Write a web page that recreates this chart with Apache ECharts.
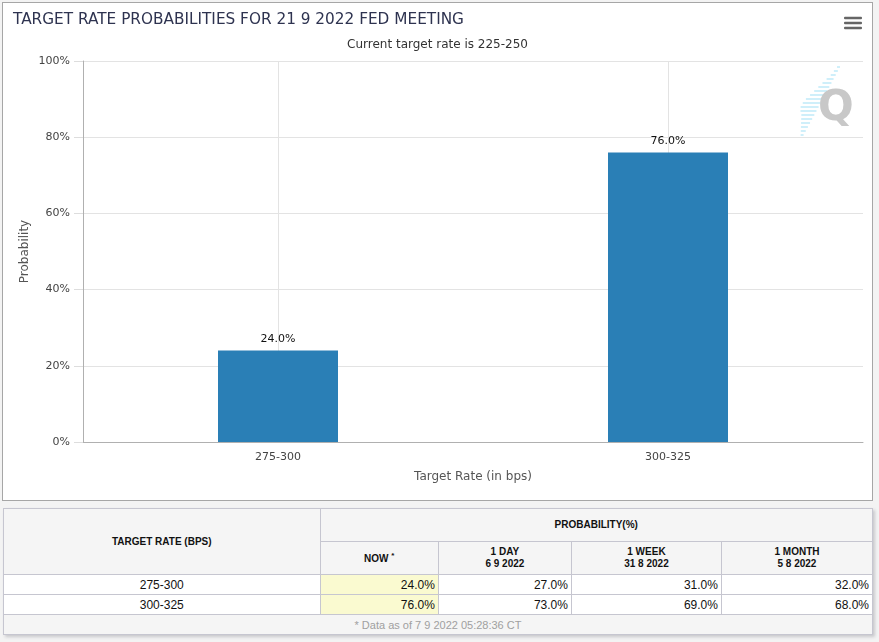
<!DOCTYPE html>
<html>
<head>
<meta charset="utf-8">
<script src="https://cdn.jsdelivr.net/npm/echarts@6/dist/echarts.min.js"></script>
<style>
  html, body { margin: 0; padding: 0; background: #f3f3f3; }
  .chart-box {
    position: absolute; left: 2px; top: 2px;
    width: 869px; height: 497px;
    border: 1px solid #a6a6a6; background: #fff;
  }
  #chart { width: 869px; height: 497px; }
  table.probs {
    position: absolute; left: 3px; top: 508px;
    width: 870px; border-collapse: collapse;
    font-family: "Liberation Sans", Arial, sans-serif;
    background: #f5f5f5;
    box-shadow: 2px 2px 3px #c8c8cc;
  }
  table.probs td, table.probs th {
    border: 1px solid #c6c6d0; padding: 0 3px;
  }
  table.probs th { font-size: 10px; font-weight: bold; color: #111; text-align: center; line-height: 12px; }
  table.probs td { font-size: 12px; color: #111; height: 19px; text-align: right; background: #fff; }
  table.probs td.rate { text-align: center; }
  table.probs td.now { background: #fafad0; }
  table.probs td.foot { text-align: center; color: #a0a0a0; background: #f5f5f5; font-size: 11px; }
  table.probs sup { font-size: 8px; }
</style>
</head>
<body>
<div class="chart-box"><div id="chart"></div></div>
<table class="probs" id="probTable"></table>
<script>
// chart values
const categories = ['275-300', '300-325'];
const nowValues = [24.0, 76.0];
const dayValues = [27.0, 73.0];
const weekValues = [31.0, 69.0];
const monthValues = [32.0, 68.0];
const yTicks = [0, 20, 40, 60, 80, 100];

// table header labels
const periodNames = ['1 DAY', '1 WEEK', '1 MONTH'];
const periodDates = ['6 9 2022', '31 8 2022', '5 8 2022'];
const footNote = '* Data as of 7 9 2022 05:28:36 CT';

const chart = echarts.init(document.getElementById('chart'));

// hamburger menu + watermark logo (decoration only)
const menuLines = [15, 20, 25].map(y => ({
    type: 'rect',
    shape: { x: 841, y: y - 1.2, width: 18, height: 2.4, r: 1 },
    style: { fill: '#666' },
    silent: true
}));
const stripeLens = [3, 4, 5, 7, 9, 11, 13, 15, 17, 18, 18, 16, 13, 11, 9, 7, 5, 3];
const stripeLines = stripeLens.map((len, i) => {
    const y = 64 + i * 4;
    const x = 837 - i * 4 * 0.535;
    return {
        type: 'line',
        shape: { x1: x - len, y1: y, x2: x, y2: y },
        style: { stroke: '#c4ecf9', lineWidth: 1.6 },
        silent: true
    };
});

const option = {
    animation: false,
    title: [{
        text: 'TARGET RATE PROBABILITIES FOR 21 9 2022 FED MEETING',
        left: 5, top: 5,
        textStyle: { fontFamily: 'DejaVu Sans', fontSize: 15.3, fontWeight: 'normal', color: '#2e3350' }
    }, {
        text: 'Current target rate is 225-250',
        left: 'center', top: 31,
        textStyle: { fontFamily: 'DejaVu Sans', fontSize: 12, fontWeight: 'normal', color: '#333' }
    }],
    graphic: menuLines.concat(stripeLines, [{
        type: 'text',
        left: 815, top: 85,
        style: { text: 'Q', font: 'bold 42px "DejaVu Sans"', fill: '#c8c8c8' },
        silent: true
    }]),
    grid: { left: 80, right: 9, top: 58, bottom: 58 },
    xAxis: {
        type: 'category',
        data: categories,
        name: 'Target Rate (in bps)',
        nameLocation: 'middle',
        nameGap: 29,
        nameTextStyle: { fontFamily: 'DejaVu Sans', fontSize: 12, color: '#555' },
        axisLine: { lineStyle: { color: '#b0b0b0' } },
        axisTick: { alignWithLabel: true, length: 9, lineStyle: { color: '#ccc' } },
        axisLabel: { margin: 10, fontFamily: 'DejaVu Sans', fontSize: 11, color: '#444' },
        splitLine: { show: true, alignWithLabel: true, lineStyle: { color: '#e3e3e3' } }
    },
    yAxis: {
        type: 'value',
        min: yTicks[0], max: yTicks[yTicks.length - 1], interval: yTicks[1] - yTicks[0],
        name: 'Probability',
        nameLocation: 'middle',
        nameGap: 52,
        nameMoveOverlap: false,
        nameTextStyle: { fontFamily: 'DejaVu Sans', fontSize: 12, color: '#555' },
        axisLine: { show: true, lineStyle: { color: '#b0b0b0' } },
        axisTick: { show: true, length: 9, lineStyle: { color: '#ddd' } },
        axisLabel: { margin: 13, fontFamily: 'DejaVu Sans', fontSize: 11, color: '#444', formatter: '{value}%' },
        splitLine: { lineStyle: { color: '#e3e3e3' } }
    },
    series: [{
        type: 'bar',
        data: nowValues,
        barWidth: 120,
        itemStyle: { color: '#2a7fb6' },
        label: {
            show: true, position: 'top', distance: 6,
            fontFamily: 'DejaVu Sans', fontSize: 11, color: '#111',
            formatter: p => p.value.toFixed(1) + '%'
        }
    }]
};
chart.setOption(option);

// probability table
const fmt = v => v.toFixed(1) + '%';
let html = '<tr style="height:33px"><th rowspan="2" style="width:312px">TARGET RATE (BPS)</th>' +
    '<th colspan="4">PROBABILITY(%)</th></tr>';
html += '<tr style="height:33px"><th style="width:112px">NOW <sup>*</sup></th>';
periodNames.forEach((n, i) => {
    html += '<th style="width:' + [127, 144, 145][i] + 'px">' + n + '<br>' + periodDates[i] + '</th>';
});
html += '</tr>';
categories.forEach((c, i) => {
    html += '<tr><td class="rate">' + c + '</td><td class="now">' + fmt(nowValues[i]) + '</td>' +
        '<td>' + fmt(dayValues[i]) + '</td><td>' + fmt(weekValues[i]) + '</td><td>' + fmt(monthValues[i]) + '</td></tr>';
});
html += '<tr><td class="foot" colspan="5">' + footNote + '</td></tr>';
document.getElementById('probTable').innerHTML = html;
</script>
</body>
</html>
